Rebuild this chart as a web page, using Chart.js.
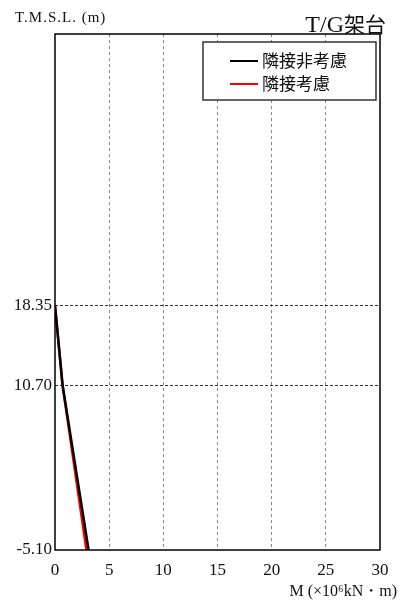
<!DOCTYPE html>
<html>
<head>
<meta charset="utf-8">
<script src="https://cdn.jsdelivr.net/npm/chart.js@4.4.1/dist/chart.umd.min.js"></script>
<style>
  html, body { margin: 0; padding: 0; background: #fff; }
  #wrap { width: 402px; height: 603px; position: relative; }
</style>
</head>
<body>
<div id="wrap"><canvas id="chartM"></canvas></div>
<script>
  // 標高 (T.M.S.L.)
  const levels = [18.35, 10.70, -5.10];
  // 曲げモーメント M (×10^6 kN・m)
  const mNonAdj = [0, 0.70, 3.10];
  const mAdj = [0, 0.70, 2.90];
  const seriesLabels = ['隣接非考慮', '隣接考慮'];
  const xTicks = [0, 5, 10, 15, 20, 25, 30];
  const yTicks = [-5.10, 10.70, 18.35];

  const serif = '"Liberation Serif", "DejaVu Serif", serif';
  const jp = '"Noto Sans CJK JP", sans-serif';

  function toPts(xs){ return xs.map((v, i) => ({ x: v, y: levels[i] })); }

  // 枠線・タイトル・凡例
  const decor = {
    id: 'decor',
    afterDatasetsDraw(chart){
      const { ctx, chartArea: a } = chart;
      ctx.save();
      ctx.strokeStyle = '#000';
      ctx.lineWidth = 1.5;
      ctx.strokeRect(a.left, a.top, a.right - a.left, a.bottom - a.top);

      // legend
      const lx = 203, ly = 42, lw = 173, lh = 58;
      ctx.fillStyle = '#fff';
      ctx.fillRect(lx, ly, lw, lh);
      ctx.strokeStyle = '#333';
      ctx.lineWidth = 1.5;
      ctx.strokeRect(lx, ly, lw, lh);
      chart.data.datasets.forEach((ds, i) => {
        const y = 61 + i * 23;
        ctx.strokeStyle = ds.borderColor;
        ctx.lineWidth = 2;
        ctx.beginPath(); ctx.moveTo(230, y); ctx.lineTo(258, y); ctx.stroke();
        ctx.fillStyle = '#111';
        ctx.font = '17px ' + jp;
        ctx.textAlign = 'left';
        ctx.textBaseline = 'middle';
        ctx.fillText(ds.label, 262, y);
      });

      ctx.fillStyle = '#111';
      ctx.textBaseline = 'alphabetic';
      ctx.textAlign = 'left';
      ctx.font = '15px ' + serif;
      ctx.letterSpacing = '1px';
      ctx.fillText('T.M.S.L. (m)', 15, 22);
      ctx.letterSpacing = '0px';
      ctx.textAlign = 'right';
      ctx.font = '21px ' + jp;
      const w = ctx.measureText('架台').width;
      ctx.fillText('架台', 386, 32);
      ctx.font = '24px ' + serif;
      ctx.fillText('T/G', 386 - w, 32);
      ctx.font = '16px ' + serif;
      ctx.fillText('M (×10⁶kN・m)', 397, 596);
      ctx.restore();
    }
  };

  new Chart(document.getElementById('chartM'), {
    type: 'line',
    data: {
      datasets: [
        { label: seriesLabels[0], data: toPts(mNonAdj), borderColor: '#000', borderWidth: 2.5, pointRadius: 0, tension: 0 },
        { label: seriesLabels[1], data: toPts(mAdj), borderColor: '#ff0000', borderWidth: 2.5, pointRadius: 0, tension: 0 }
      ]
    },
    options: {
      responsive: true,
      maintainAspectRatio: false,
      animation: false,
      layout: { padding: { top: 34, right: 22, left: 0, bottom: 0 } },
      plugins: { legend: { display: false }, tooltip: { enabled: false } },
      scales: {
        x: {
          type: 'linear',
          min: 0, max: 30,
          afterBuildTicks: s => { s.ticks = xTicks.map(v => ({ value: v })); },
          afterFit: s => { s.height = 53; },
          border: { display: false, dash: [3, 3] },
          grid: {
            color: ctx => (ctx.tick && (ctx.tick.value === 0 || ctx.tick.value === 30)) ? 'rgba(0,0,0,0)' : '#888',
            lineWidth: 1,
            drawTicks: false
          },
          ticks: { color: '#111', font: { family: serif, size: 17 }, padding: 10, maxRotation: 0 }
        },
        y: {
          type: 'linear',
          min: -5.10, max: 44.4,
          afterBuildTicks: s => { s.ticks = yTicks.map(v => ({ value: v })); },
          afterFit: s => { s.width = 55; },
          border: { display: false, dash: [3, 2] },
          grid: {
            color: ctx => (ctx.tick && ctx.tick.value === -5.10) ? 'rgba(0,0,0,0)' : '#333',
            lineWidth: 1,
            drawTicks: false
          },
          ticks: {
            color: '#111', font: { family: serif, size: 17 }, padding: 3,
            callback: v => Number(v).toFixed(2)
          }
        }
      }
    },
    plugins: [decor]
  });
</script>
</body>
</html>
